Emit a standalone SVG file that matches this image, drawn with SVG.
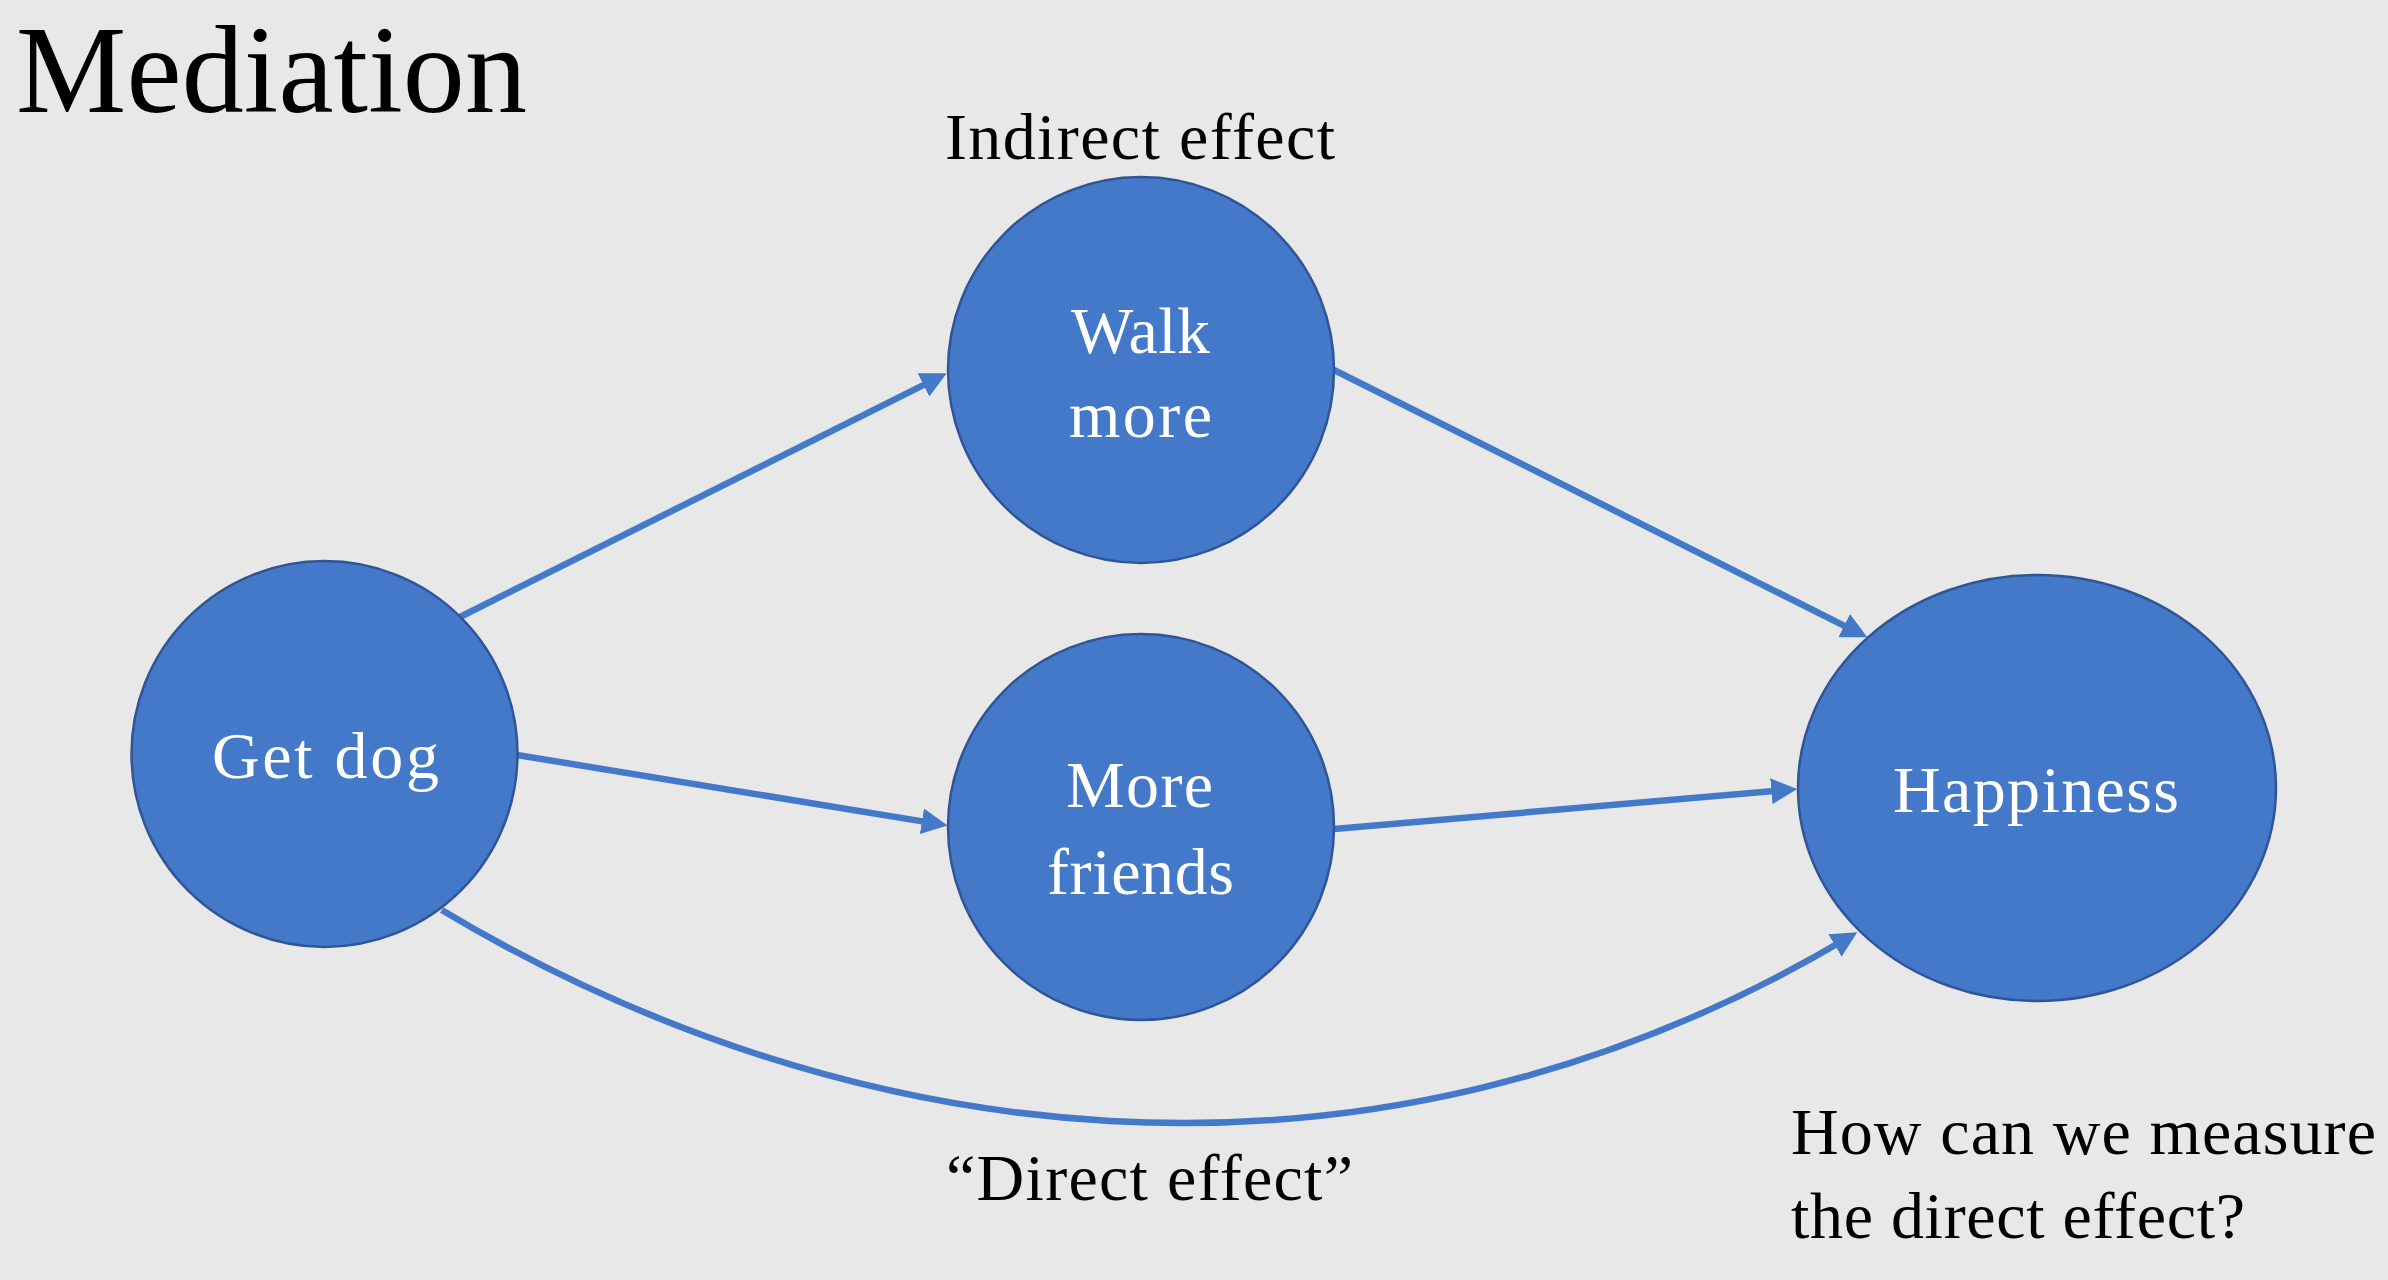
<svg xmlns="http://www.w3.org/2000/svg" width="2388" height="1280" viewBox="0 0 2388 1280">
  <style>
    .bg { fill: #E8E8E8; }
    .node { fill: #4479CA; stroke: #2F5597; stroke-width: 2.5; }
    .lbl { font-family: "Liberation Serif", "Times New Roman", serif; font-size: 66px; fill: #FFFFFF; }
    .txt { font-family: "Liberation Serif", "Times New Roman", serif; font-size: 66px; fill: #000000; }
    .title { font-family: "Liberation Serif", "Times New Roman", serif; font-size: 124px; fill: #000000; }
    .edge { fill: none; stroke: #4479CA; stroke-width: 6.5; }
  </style>
  <defs>
    <marker id="arrow" markerUnits="userSpaceOnUse" viewBox="0 0 26 26" markerWidth="26" markerHeight="26" refX="16" refY="13" orient="auto">
      <path d="M0,0 L26,13 L0,26 z" fill="#4479CA"/>
    </marker>
  </defs>
  <rect class="bg" x="0" y="0" width="2388" height="1280"/>

  <text class="title" x="16" y="112" textLength="511" lengthAdjust="spacing">Mediation</text>
  <text class="txt" x="945" y="159" textLength="390" lengthAdjust="spacing">Indirect effect</text>
  <text class="txt" x="946" y="1200" textLength="407" lengthAdjust="spacing">“Direct effect”</text>
  <text class="txt" x="1791" y="1154" textLength="585" lengthAdjust="spacing">How can we measure</text>
  <text class="txt" x="1791" y="1238" textLength="454" lengthAdjust="spacing">the direct effect?</text>

  <g id="connectors">
    <path class="edge" d="M460,617 L937.8,377.8" marker-end="url(#arrow)"/>
    <path class="edge" d="M1334,370 L1858.4,632.8" marker-end="url(#arrow)"/>
    <path class="edge" d="M517,755 L937.7,823.9" marker-end="url(#arrow)"/>
    <path class="edge" d="M1334,829 L1787.3,789.9" marker-end="url(#arrow)"/>
    <path class="edge" d="M441.7,910 C836,1146.4 1360.5,1227.1 1848.7,937.3" marker-end="url(#arrow)"/>
  </g>

  <g id="node-getdog">
    <circle class="node" cx="324.5" cy="754" r="193"/>
    <text class="lbl" x="212" y="778" textLength="227" lengthAdjust="spacing">Get dog</text>
  </g>
  <g id="node-walkmore">
    <circle class="node" cx="1141" cy="370" r="193"/>
    <text class="lbl" x="1071" y="353" textLength="139" lengthAdjust="spacing">Walk</text>
    <text class="lbl" x="1069" y="437" textLength="143" lengthAdjust="spacing">more</text>
  </g>
  <g id="node-morefriends">
    <circle class="node" cx="1141" cy="827" r="193"/>
    <text class="lbl" x="1066" y="807" textLength="147" lengthAdjust="spacing">More</text>
    <text class="lbl" x="1047" y="894" textLength="187" lengthAdjust="spacing">friends</text>
  </g>
  <g id="node-happiness">
    <ellipse class="node" cx="2037" cy="788" rx="239" ry="213"/>
    <text class="lbl" x="1893" y="812" textLength="286" lengthAdjust="spacing">Happiness</text>
  </g>
</svg>
